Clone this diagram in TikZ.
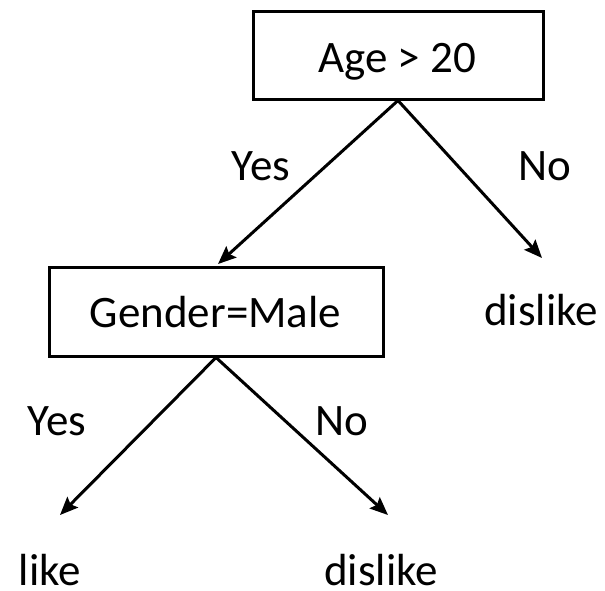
\documentclass[tikz,border=0pt]{standalone}
\usepackage{fontspec}
\setmainfont{Carlito}
\usetikzlibrary{arrows.meta}
\begin{document}
\begin{tikzpicture}[x=1pt,y=-1pt,
  box/.style={draw,line width=3pt,inner sep=0pt},
  lbl/.style={anchor=base,inner sep=0pt,font=\fontsize{45}{54}\selectfont},
  arr/.style={line width=3pt,-{Stealth[length=18pt,width=15pt,inset=3pt]}}]
\useasboundingbox (0,0) rectangle (605,590);
% boxes
\node[box,minimum width=290pt,minimum height=88pt] (root) at (398,55) {};
\node[box,minimum width=334pt,minimum height=89pt] (gender) at (216,311.5) {};
% texts
\node[lbl] (roottext) at (397,72) {Age > 20};
\node[lbl] (gendertext) at (215.5,327) {Gender=Male};
\node[lbl] (yes1) at (261,180) {Yes};
\node[lbl] (no1) at (545,180) {No};
\node[lbl] (dislike1) at (541,325) {dislike};
\node[lbl] (yes2) at (57,435) {Yes};
\node[lbl] (no2) at (342,435) {No};
\node[lbl] (like) at (50,585) {like};
\node[lbl] (dislike2) at (381,585) {dislike};
% arrow tips
\coordinate (t1) at (218,264);
\coordinate (t2) at (542,258);
\coordinate (t3) at (60,515);
\coordinate (t4) at (388,515);
% connectors
\draw[arr] (root.south) -- (t1);
\draw[arr] (root.south) -- (t2);
\draw[arr] (gender.south) -- (t3);
\draw[arr] (gender.south) -- (t4);
\end{tikzpicture}
\end{document}
